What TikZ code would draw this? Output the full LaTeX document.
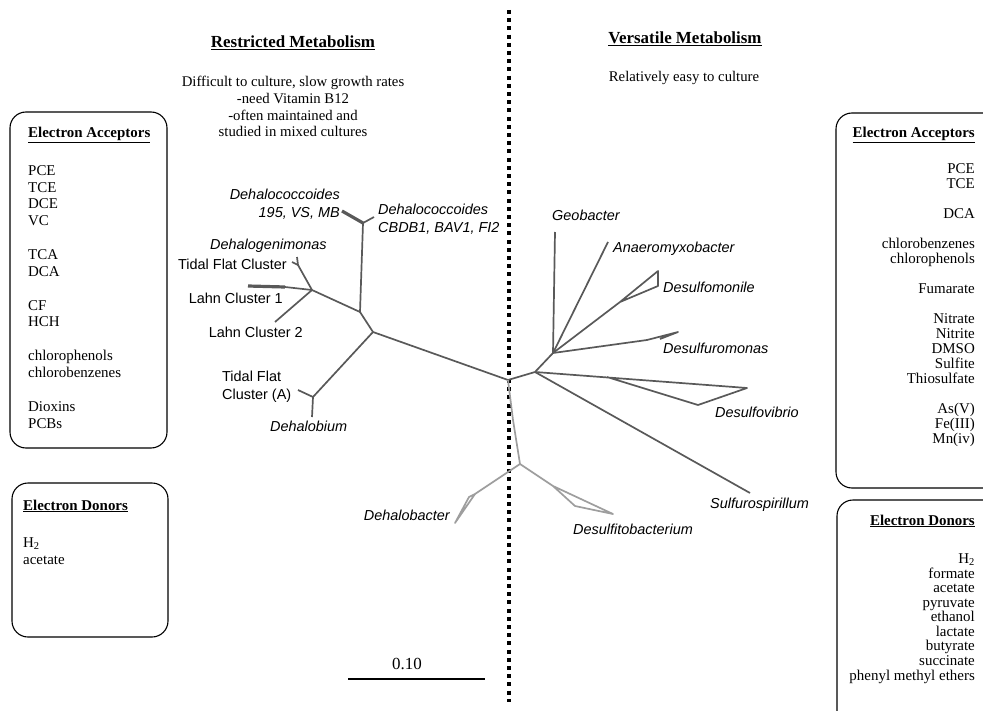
\documentclass[tikz,border=0pt]{standalone}
\usepackage{fontspec}
\setmainfont{Liberation Serif}
\setsansfont{Liberation Sans}

\tikzset{
	rama/.style={draw=black!65, line width=1.7bp, line join=round},
	ramagruesa/.style={draw=black!65, line width=3.2bp, line join=round},
	ramaclara/.style={draw=black!38, line width=1.7bp, line join=round},
	especie/.style={font=\sffamily\itshape\fontsize{14.5}{18}\selectfont, inner sep=0pt},
	grupo/.style={font=\sffamily\fontsize{14.5}{17.5}\selectfont, inner sep=0pt},
	caja/.style={draw, rounded corners=16bp, line width=1.1bp},
	titulo/.style={font=\bfseries\fontsize{17}{20}\selectfont, inner sep=0pt},
	texto/.style={font=\fontsize{14.8}{17}\selectfont, inner sep=0pt, align=center},
}

\begin{document}
\begin{tikzpicture}[x=1bp, y=-1bp]
	\path[use as bounding box] (0,0) rectangle (983,711);
	\clip (0,0) rectangle (983,711);

	% linea divisoria
	\coordinate (arriba) at (509,10);
	\coordinate (abajo) at (509,702);
	\draw[line width=4bp, dash pattern=on 4bp off 4.2bp] (arriba) -- (abajo);

	% encabezados (los textos de varias lineas van por la base de la ultima)
	\node[titulo, anchor=base] (restr) at (293,48) {\underline{Restricted Metabolism}};
	\node[texto, anchor=base] (restrtxt) at (293,137) {Difficult to culture, slow growth rates\\-need Vitamin B12\\-often maintained and\\studied in mixed cultures};
	\node[titulo, anchor=base] (vers) at (685,44) {\underline{Versatile Metabolism}};
	\node[texto, anchor=base] (verstxt) at (684,82) {Relatively easy to culture};

	% cajas de la izquierda
	\draw[caja] (10,112) rectangle (167,448);
	\node[font=\bfseries\fontsize{15}{17}\selectfont, inner sep=0pt, anchor=base west] (aceptI) at (28,138) {\underline{Electron Acceptors}};
	\node[font=\fontsize{15}{16.9}\selectfont, inner sep=0pt, align=left, anchor=base west] (listaI) at (28,428)
		{PCE\\TCE\\DCE\\VC\\[16.9bp]TCA\\DCA\\[16.9bp]CF\\HCH\\[16.9bp]chlorophenols\\chlorobenzenes\\[16.9bp]Dioxins\\PCBs};
	\draw[caja] (12,483) rectangle (168,637);
	\node[font=\bfseries\fontsize{15}{17}\selectfont, inner sep=0pt, anchor=base west] (donI) at (23,510) {\underline{Electron Donors}};
	\node[font=\fontsize{15}{17}\selectfont, inner sep=0pt, align=left, anchor=base west] (listaDI) at (23,564)
		{H\textsubscript{2}\\acetate};

	% cajas de la derecha
	\draw[caja] (836,113) rectangle (1000,488);
	\node[font=\bfseries\fontsize{15}{17}\selectfont, inner sep=0pt, anchor=base east] (aceptD) at (975,138) {\underline{Electron Acceptors}};
	\node[font=\fontsize{15}{15}\selectfont, inner sep=0pt, align=right, anchor=base east] (listaD) at (975,443)
		{PCE\\TCE\\[15bp]DCA\\[15bp]chlorobenzenes\\chlorophenols\\[15bp]Fumarate\\[15bp]Nitrate\\Nitrite\\DMSO\\Sulfite\\Thiosulfate\\[15bp]As(V)\\Fe(III)\\Mn(iv)};
	\draw[caja] (837,500) rectangle (1000,730);
	\node[font=\bfseries\fontsize{15}{17}\selectfont, inner sep=0pt, anchor=base east] (donD) at (975,525) {\underline{Electron Donors}};
	\node[font=\fontsize{15}{14.6}\selectfont, inner sep=0pt, align=right, anchor=base east] (listaDD) at (975,680)
		{H\textsubscript{2}\\formate\\acetate\\pyruvate\\ethanol\\lactate\\butyrate\\succinate\\phenyl methyl ethers};

	% arbol: nodos internos
	\coordinate (r0) at (508,380);
	\coordinate (a1) at (373,332);
	\coordinate (a2) at (360,312);
	\coordinate (a3) at (363,223);
	\coordinate (a4) at (312,290);
	\coordinate (a5) at (298,265);
	\coordinate (a6) at (313,397);
	\coordinate (b1) at (535,372);
	\coordinate (b2) at (553,353);
	\coordinate (b3) at (620,302);
	\coordinate (b4) at (647,340);
	\coordinate (b5) at (607,377);
	\coordinate (c0) at (513,420);
	\coordinate (c1) at (520,464);
	\coordinate (c2) at (475,494);
	\coordinate (c3) at (553,486);

	% arbol: puntas
	\coordinate (t195) at (342,211);
	\coordinate (tCBDB) at (374,217);
	\coordinate (tL1) at (248,286);
	\coordinate (tL1b) at (285,287);
	\coordinate (tL2) at (275,322);
	\coordinate (tDhg) at (297,257);
	\coordinate (tTF) at (292,262);
	\coordinate (tTFA) at (298,390);
	\coordinate (tDhb) at (312,417);
	\coordinate (tGeo) at (555,232);
	\coordinate (tAna) at (608,242);
	\coordinate (tMon1) at (658,271);
	\coordinate (tMon2) at (658,286);
	\coordinate (tRom1) at (678,332);
	\coordinate (tRom2) at (660,339);
	\coordinate (tVib1) at (747,388);
	\coordinate (tVib2) at (698,405);
	\coordinate (tSul) at (750,493);
	\coordinate (tBac1) at (455,523);
	\coordinate (tBac2) at (469,497);
	\coordinate (tFit1) at (575,506);
	\coordinate (tFit2) at (613,514);

	% ramas de metabolismo restringido
	\draw[rama] (r0) -- (a1) -- (a2) -- (a3);
	\draw[rama] (a3) -- (tCBDB);
	\draw[ramagruesa] (a3) -- (t195);
	\draw[rama] (a2) -- (a4) -- (a5) -- (tDhg);
	\draw[rama] (a5) -- (tTF);
	\draw[rama] (a4) -- (tL1b);
	\draw[ramagruesa] (tL1b) -- (tL1);
	\draw[rama] (a4) -- (tL2);
	\draw[rama] (a1) -- (a6) -- (tTFA);
	\draw[rama] (a6) -- (tDhb);

	% ramas de metabolismo versatil
	\draw[rama] (r0) -- (b1) -- (b2) -- (tGeo);
	\draw[rama] (b2) -- (tAna);
	\draw[rama] (b2) -- (b3) -- (tMon1) -- (tMon2) -- (b3);
	\draw[rama] (b2) -- (b4) -- (tRom1) -- (tRom2);
	\draw[rama] (b1) -- (tVib1) -- (tVib2) -- (b5);
	\draw[rama] (b1) -- (tSul);

	% ramas grises de abajo
	\draw[ramaclara] (r0) -- (c0) -- (c1) -- (c2) -- (tBac1) -- (tBac2) -- (c2);
	\draw[ramaclara] (c1) -- (c3) -- (tFit1) -- (tFit2) -- (c3);

	% etiquetas
	\node[especie, align=right, anchor=base east] (n195) at (340,217) {Dehalococcoides\\195, VS, MB};
	\node[especie, align=left, anchor=base west] (nCBDB) at (378,232) {Dehalococcoides\\CBDB1, BAV1, FI2};
	\node[especie, anchor=base west] (nDhg) at (210,249) {Dehalogenimonas};
	\node[grupo, anchor=base east] (nTF) at (287,269) {Tidal Flat Cluster};
	\node[grupo, anchor=base east] (nL1) at (283,303) {Lahn Cluster 1};
	\node[grupo, anchor=base east] (nL2) at (303,337) {Lahn Cluster 2};
	\node[grupo, align=left, anchor=base west] (nTFA) at (222,399) {Tidal Flat\\Cluster (A)};
	\node[especie, anchor=base west] (nDhb) at (270,431) {Dehalobium};
	\node[especie, anchor=base west] (nGeo) at (552,220) {Geobacter};
	\node[especie, anchor=base west] (nAna) at (613,252) {Anaeromyxobacter};
	\node[especie, anchor=base west] (nMon) at (663,292) {Desulfomonile};
	\node[especie, anchor=base west] (nRom) at (663,353) {Desulfuromonas};
	\node[especie, anchor=base west] (nVib) at (715,417) {Desulfovibrio};
	\node[especie, anchor=base west] (nSul) at (710,508) {Sulfurospirillum};
	\node[especie, anchor=base east] (nBac) at (450,520) {Dehalobacter};
	\node[especie, anchor=base west] (nFit) at (573,534) {Desulfitobacterium};

	% escala
	\coordinate (e1) at (348,679);
	\coordinate (e2) at (485,679);
	\draw[line width=2.2bp] (e1) -- (e2);
	\node[font=\fontsize{17}{20}\selectfont, inner sep=0pt, anchor=base] (escala) at (407,669) {0.10};
\end{tikzpicture}
\end{document}
